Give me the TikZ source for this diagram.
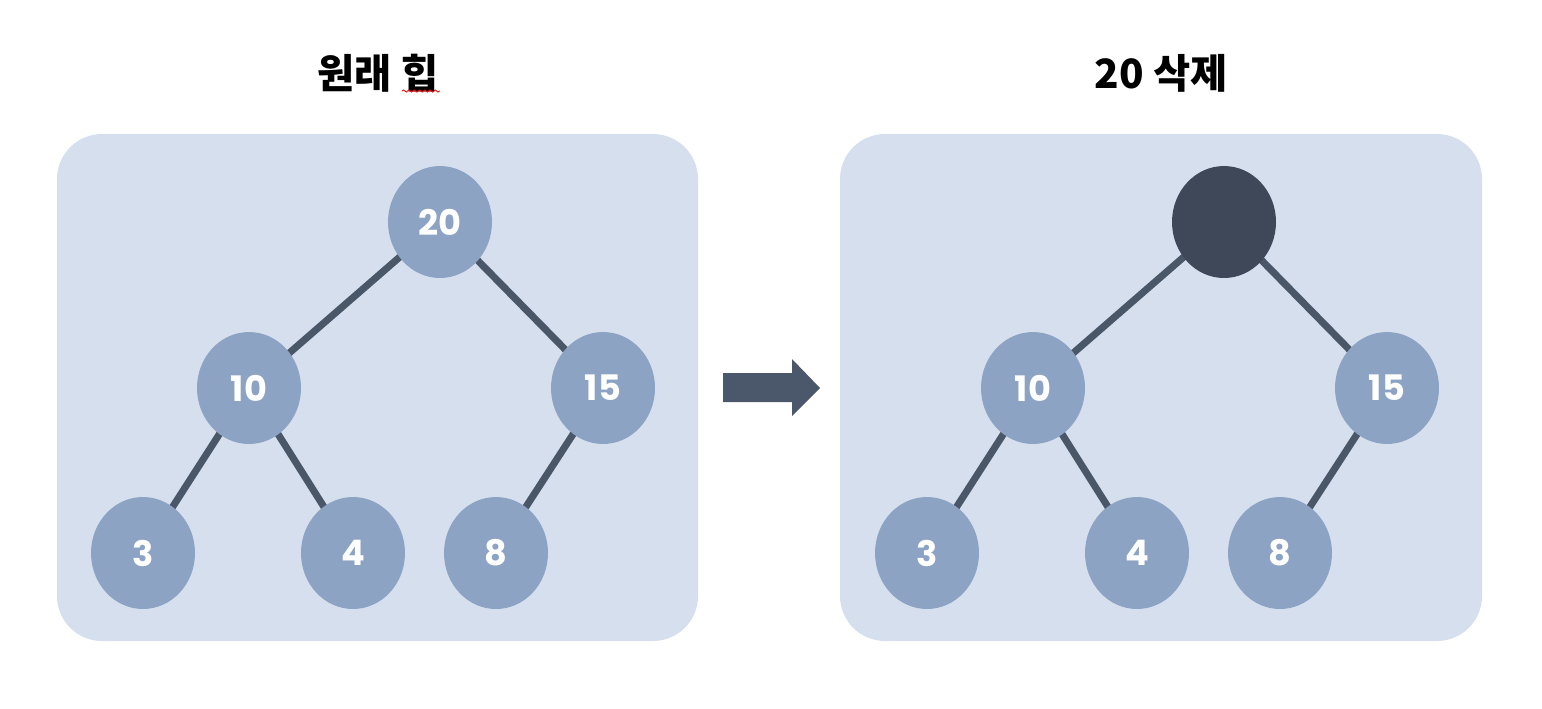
\documentclass[tikz,border=0pt]{standalone}
\usepackage{fontspec}
\setmainfont{Poppins}
\newfontfamily\cjk{Noto Sans CJK KR}[BoldFont={Noto Sans CJK KR Black}]
\usetikzlibrary{shapes.geometric,backgrounds,decorations.pathmorphing}
\definecolor{boxbg}{HTML}{D6DFEE}
\definecolor{nodefill}{HTML}{8CA3C3}
\definecolor{darknode}{HTML}{3F4858}
\definecolor{edgecol}{HTML}{4A5769}
\definecolor{arrowcol}{HTML}{4B586B}
\tikzset{
  panel/.style={fill=boxbg, draw=none, rounded corners=0.9cm},
  heapnode/.style={ellipse, fill=nodefill, draw=none, minimum width=2.08cm, minimum height=2.24cm, inner sep=0pt, text=white, font=\fontsize{20}{24}\selectfont\bfseries},
  removed/.style={heapnode, fill=darknode},
  edge/.style={draw=edgecol, line width=4pt},
  title/.style={font=\cjk\bfseries\fontsize{23}{27}\selectfont, text=black}
}
\begin{document}
\begin{tikzpicture}[x=0.02cm,y=-0.02cm]
\useasboundingbox (0,0) rectangle (1542,708);
% titles
\node[title] (t1) at (378,73) {원래 힙};
\node[title] (t2) at (1161,73) {20 삭제};
\draw[red, line width=0.5pt, decorate, decoration={snake, amplitude=0.6pt, segment length=3pt}] (402,91) -- (440,91);
% left heap
\node[heapnode] (a20) at (440,222) {20};
\node[heapnode] (a10) at (249,388) {10};
\node[heapnode] (a15) at (603,388) {15};
\node[heapnode] (a3) at (143,553) {3};
\node[heapnode] (a4) at (353,553) {4};
\node[heapnode] (a8) at (496,553) {8};
% right heap
\node[removed] (b20) at (1224,222) {};
\node[heapnode] (b10) at (1033,388) {10};
\node[heapnode] (b15) at (1387,388) {15};
\node[heapnode] (b3) at (927,553) {3};
\node[heapnode] (b4) at (1137,553) {4};
\node[heapnode] (b8) at (1280,553) {8};
\begin{scope}[on background layer]
\fill[panel] (57,134) rectangle (698,641);
\fill[panel] (840,134) rectangle (1482,641);
\draw[edge] (a20.center) -- (a10.center);
\draw[edge] (a20.center) -- (a15.center);
\draw[edge] (a10.center) -- (a3.center);
\draw[edge] (a10.center) -- (a4.center);
\draw[edge] (a15.center) -- (a8.center);
\draw[edge] (b20.center) -- (b10.center);
\draw[edge] (b20.center) -- (b15.center);
\draw[edge] (b10.center) -- (b3.center);
\draw[edge] (b10.center) -- (b4.center);
\draw[edge] (b15.center) -- (b8.center);
\end{scope}
% arrow
\fill[arrowcol] (723,373) -- (792,373) -- (792,359) -- (820,388) -- (792,416) -- (792,402) -- (723,402) -- cycle;
\end{tikzpicture}
\end{document}
